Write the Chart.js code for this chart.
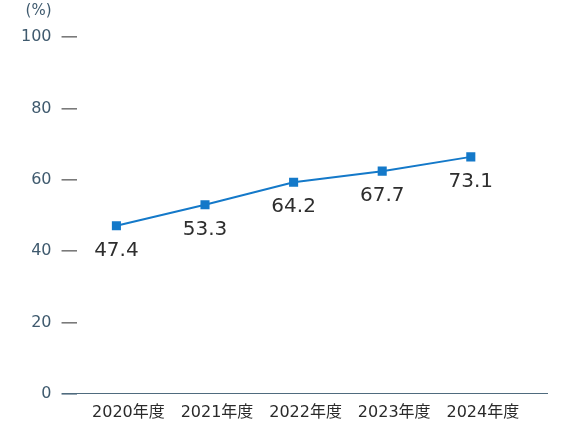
<!DOCTYPE html>
<html>
<head>
<meta charset="utf-8">
<script src="https://cdn.jsdelivr.net/npm/chart.js@4"></script>
<style>
  html, body { margin: 0; padding: 0; background: #fff; }
  #wrap { width: 580px; height: 421px; position: relative; }
</style>
</head>
<body>
<div id="wrap"><canvas id="rateChart"></canvas></div>
<script>
const years = ['2020年度', '2021年度', '2022年度', '2023年度', '2024年度'];
// where the markers sit on the picture
const plotted = [47.1, 53.0, 59.3, 62.4, 66.4];
// numbers printed under the markers
const printed = ['47.4', '53.3', '64.2', '67.7', '73.1'];
const yTicks = [0, 20, 40, 60, 80, 100];

const FONT = '"DejaVu Sans", "Noto Sans CJK JP", sans-serif';
const lineColor = '#1479c9';

// draws the values under each point and the (%) unit above the y axis
const valueLabels = {
	id: 'valueLabels',
	afterDatasetsDraw(chart){
		const ctx = chart.ctx;
		const meta = chart.getDatasetMeta(0);
		ctx.save();
		ctx.fillStyle = '#2e2e2e';
		ctx.font = '20px ' + FONT;
		ctx.textAlign = 'center';
		ctx.textBaseline = 'middle';
		meta.data.forEach((pt, i) => {
			ctx.fillText(printed[i], pt.x, pt.y + 25);
		});
		const ys = chart.scales.y;
		ctx.fillStyle = '#3f5a6e';
		ctx.font = '15px ' + FONT;
		ctx.textAlign = 'right';
		ctx.fillText('(%)', ys.right - 25, ys.getPixelForValue(100) - 26);
		ctx.restore();
	}
};

new Chart(document.getElementById('rateChart'), {
	type: 'line',
	data: {
		datasets: [{
			data: plotted.map((v, i) => ({x: i, y: v})),
			borderColor: lineColor,
			backgroundColor: lineColor,
			borderWidth: 2,
			pointStyle: 'rect',
			pointRadius: 5,
			pointHoverRadius: 5,
			tension: 0
		}]
	},
	options: {
		responsive: true,
		maintainAspectRatio: false,
		animation: false,
		layout: { padding: { top: 37, right: 33, left: 11, bottom: -10 } },
		plugins: { legend: { display: false }, tooltip: { enabled: false } },
		scales: {
			x: {
				type: 'linear',
				min: -0.45,
				max: 4.86,
				grid: { display: false, drawTicks: false },
				border: { display: true, color: '#4f6b7e', width: 1 },
				ticks: {
					stepSize: 1,
					includeBounds: false,
					labelOffset: 12,
					padding: 9,
					color: '#2a2a2a',
					font: { family: FONT, size: 16 },
					callback: v => years[v]
				}
			},
			y: {
				min: 0,
				max: 100,
				afterBuildTicks: s => { s.ticks = yTicks.map(v => ({value: v})); },
				border: { display: false },
				grid: {
					drawOnChartArea: false,
					drawTicks: true,
					tickLength: 15,
					lineWidth: 1.6,
					color: c => c.tick && c.tick.value === 0 ? '#4f6b7e' : '#7a7a7a'
				},
				ticks: {
					padding: 10,
					color: '#3f5a6e',
					font: { family: FONT, size: 16 }
				}
			}
		}
	},
	plugins: [valueLabels]
});
</script>
</body>
</html>
